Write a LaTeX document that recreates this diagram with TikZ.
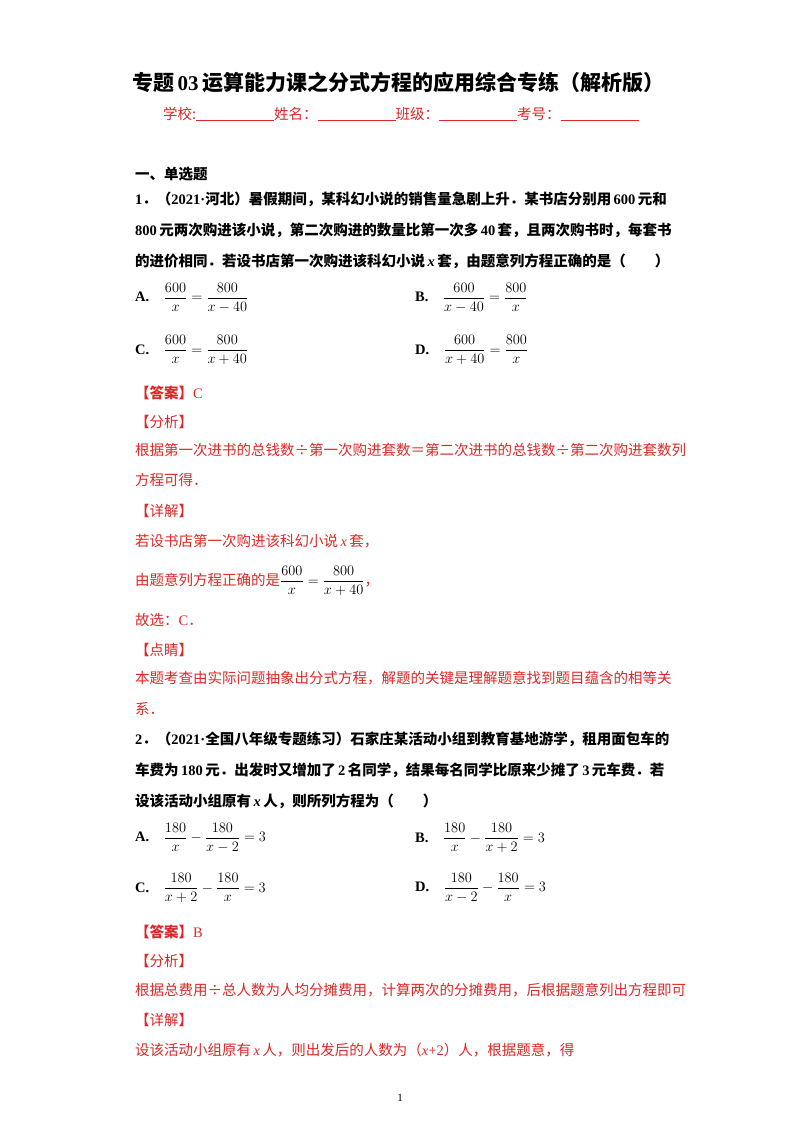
\documentclass[tikz,border=0pt]{standalone}
\usepackage{fontspec}
\setmainfont{Liberation Serif}
\newfontfamily\cjk{Noto Sans CJK SC}
\definecolor{rd}{RGB}{220,40,40}
\newcommand{\lt}[1]{{\rmfamily #1}}
\begin{document}
\begin{tikzpicture}[x=1pt,y=-1pt,
 t/.style={anchor=west,inner sep=0pt,font=\cjk\fontsize{14.5}{17}\selectfont},
 tb/.style={t,font=\cjk\bfseries\fontsize{14.5}{17}\selectfont},
 tr/.style={t,text=rd},
 trb/.style={tb,text=rd}]
\useasboundingbox (0,0) rectangle (800,1132);
\fill[white] (0,0) rectangle (800,1132);
\node[inner sep=0pt,font=\cjk\bfseries\fontsize{21}{24}\selectfont] (title) at (398,82) {专题\,\lt{03}\,运算能力课之分式方程的应用综合专练（解析版）};
\node[tr] (sub) at (163,114) {学校:\underline{\hspace{78pt}}姓名：\underline{\hspace{78pt}}班级：\underline{\hspace{78pt}}考号：\underline{\hspace{78pt}}};
\node[tb] (sec) at (135,174) {一、单选题};
\node[tb] (q1a) at (135,199) {\lt{1}．（\lt{2021·}河北）暑假期间，某科幻小说的销售量急剧上升．某书店分别用\,\lt{600}\,元和};
\node[tb] (q1b) at (135,230) {\lt{800}\,元两次购进该小说，第二次购进的数量比第一次多\,\lt{40}\,套，且两次购书时，每套书};
\node[tb] (q1c) at (135,261) {的进价相同．若设书店第一次购进该科幻小说\,\lt{\itshape x}\,套，由题意列方程正确的是（\hspace{2em}）};
\node[tb] (oA) at (135,298) {\lt{A.}\quad$\displaystyle\frac{600}{x}=\frac{800}{x-40}$};
\node[tb] (oB) at (415,298) {\lt{B.}\quad$\displaystyle\frac{600}{x-40}=\frac{800}{x}$};
\node[tb] (oC) at (135,350) {\lt{C.}\quad$\displaystyle\frac{600}{x}=\frac{800}{x+40}$};
\node[tb] (oD) at (415,350) {\lt{D.}\quad$\displaystyle\frac{600}{x+40}=\frac{800}{x}$};
\node[trb] (ans1) at (135,393) {【答案】{\mdseries\lt{C}}};
\node[tr] (fx1) at (135,422) {【分析】};
\node[tr] (f1a) at (135,450) {根据第一次进书的总钱数÷第一次购进套数＝第二次进书的总钱数÷第二次购进套数列};
\node[tr] (f1b) at (135,480) {方程可得．};
\node[tr] (xj1) at (135,511) {【详解】};
\node[tr] (d1a) at (135,541) {若设书店第一次购进该科幻小说\,\lt{\itshape x}\,套，};
\node[tr] (d1b) at (135,581) {由题意列方程正确的是\textcolor{black}{$\displaystyle\frac{600}{x}=\frac{800}{x+40}$}，};
\node[tr] (d1c) at (135,620) {故选：\lt{C}．};
\node[tr] (dj1) at (135,650) {【点睛】};
\node[tr] (e1a) at (135,678) {本题考查由实际问题抽象出分式方程，解题的关键是理解题意找到题目蕴含的相等关};
\node[tr] (e1b) at (135,709) {系．};
\node[tb] (q2a) at (135,739) {\lt{2}．（\lt{2021·}全国八年级专题练习）石家庄某活动小组到教育基地游学，租用面包车的};
\node[tb] (q2b) at (135,770) {车费为\,\lt{180}\,元．出发时又增加了\,\lt{2}\,名同学，结果每名同学比原来少摊了\,\lt{3}\,元车费．若};
\node[tb] (q2c) at (135,801) {设该活动小组原有\,\lt{\itshape x}\,人，则所列方程为（\hspace{2em}）};
\node[tb] (pA) at (135,838) {\lt{A.}\quad$\displaystyle\frac{180}{x}-\frac{180}{x-2}=3$};
\node[tb] (pB) at (415,838) {\lt{B.}\quad$\displaystyle\frac{180}{x}-\frac{180}{x+2}=3$};
\node[tb] (pC) at (135,888) {\lt{C.}\quad$\displaystyle\frac{180}{x+2}-\frac{180}{x}=3$};
\node[tb] (pD) at (415,888) {\lt{D.}\quad$\displaystyle\frac{180}{x-2}-\frac{180}{x}=3$};
\node[trb] (ans2) at (135,932) {【答案】{\mdseries\lt{B}}};
\node[tr] (fx2) at (135,961) {【分析】};
\node[tr] (f2a) at (135,990) {根据总费用÷总人数为人均分摊费用，计算两次的分摊费用，后根据题意列出方程即可};
\node[tr] (xj2) at (135,1020) {【详解】};
\node[tr] (d2a) at (135,1050) {设该活动小组原有\,\lt{\itshape x}\,人，则出发后的人数为（\lt{\itshape x}\lt{+2}）人，根据题意，得};
\node[inner sep=0pt,font=\rmfamily\fontsize{11}{13}\selectfont] (pg) at (400,1098) {1};
\end{tikzpicture}
\end{document}
